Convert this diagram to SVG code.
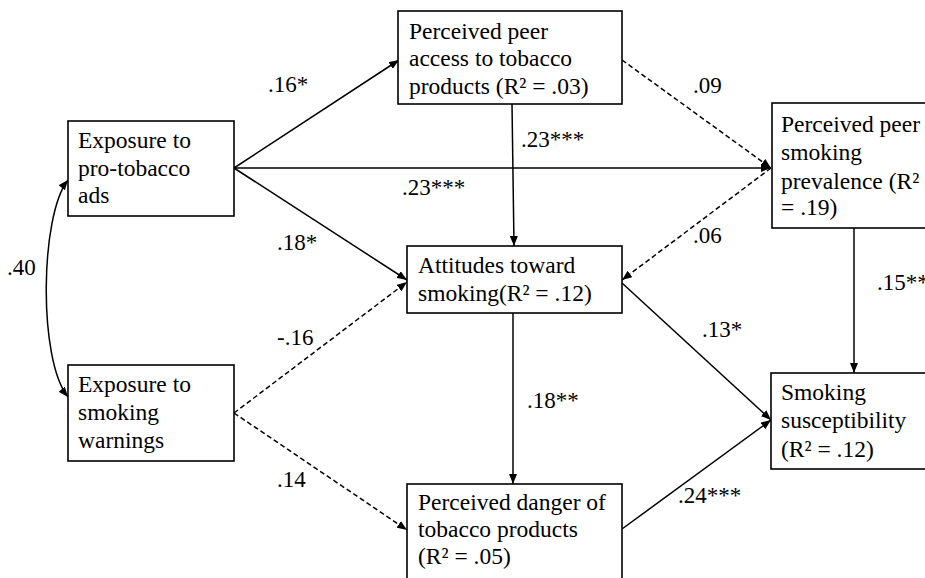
<svg xmlns="http://www.w3.org/2000/svg" width="925" height="578" viewBox="0 0 925 578" font-family="Liberation Serif, DejaVu Serif, serif">
<style>
  .box { fill: #ffffff; stroke: #000000; stroke-width: 1.6; }
  .t { font-size: 23.5px; fill: #000000; }
  .lbl { font-size: 23px; fill: #000000; }
  .edge { fill: none; stroke: #000000; stroke-width: 1.5; marker-end: url(#arr); }
  .dash { stroke-dasharray: 5 3; }
</style>
<defs>
  <marker id="arr" viewBox="0 0 10 8" refX="10" refY="4" markerWidth="10" markerHeight="8" markerUnits="userSpaceOnUse" orient="auto-start-reverse">
    <path d="M0,0 L10,4 L0,8 z" fill="#000000"/>
  </marker>
</defs>
<rect width="925" height="578" fill="#ffffff"/>

<g id="connectors">
  <path class="edge" d="M234,168 L399,60"/>
  <path class="edge" d="M234,168 L771,168"/>
  <path class="edge" d="M234,168 L407,280"/>
  <path class="edge" d="M512,104 L514,246"/>
  <path class="edge dash" d="M622,60 L771,168"/>
  <path class="edge dash" d="M771,168 L622,280"/>
  <path class="edge" d="M854,228 L854,373"/>
  <path class="edge" d="M622,283 L771,420"/>
  <path class="edge" d="M513,313 L513,484"/>
  <path class="edge dash" d="M234,413 L407,282"/>
  <path class="edge dash" d="M234,413 L407,530"/>
  <path class="edge" d="M622,529 L771,420"/>
  <path class="edge" style="marker-start: url(#arr);" d="M68,180 C40,215 38,360 68,397"/>
</g>

<g id="labels" font-family="Liberation Serif, serif">
  <text class="lbl" x="268" y="92">.16*</text>
  <text class="lbl" x="402" y="195">.23***</text>
  <text class="lbl" x="277" y="250">.18*</text>
  <text class="lbl" x="7" y="275">.40</text>
  <text class="lbl" x="521" y="147">.23***</text>
  <text class="lbl" x="693" y="93">.09</text>
  <text class="lbl" x="693" y="243">.06</text>
  <text class="lbl" x="877" y="290">.15**</text>
  <text class="lbl" x="277" y="345">-.16</text>
  <text class="lbl" x="277" y="487">.14</text>
  <text class="lbl" x="527" y="408">.18**</text>
  <text class="lbl" x="702" y="337">.13*</text>
  <text class="lbl" x="678" y="503">.24***</text>
</g>

<g id="node-ads" font-family="Liberation Serif, serif">
  <rect class="box" x="68" y="121" width="166" height="95"/>
  <text class="t" x="78" y="148">Exposure to</text>
  <text class="t" x="78" y="176">pro-tobacco</text>
  <text class="t" x="78" y="203">ads</text>
</g>

<g id="node-access" font-family="Liberation Serif, serif">
  <rect class="box" x="398" y="11" width="224" height="93"/>
  <text class="t" x="409" y="39">Perceived peer</text>
  <text class="t" x="409" y="66">access to tobacco</text>
  <text class="t" x="409" y="94">products (R² = .03)</text>
</g>

<g id="node-prevalence" font-family="Liberation Serif, serif">
  <rect class="box" x="772" y="103" width="160" height="125"/>
  <text class="t" x="781" y="132">Perceived peer</text>
  <text class="t" x="781" y="160">smoking</text>
  <text class="t" x="781" y="189">prevalence (R²</text>
  <text class="t" x="781" y="215">= .19)</text>
</g>

<g id="node-attitudes" font-family="Liberation Serif, serif">
  <rect class="box" x="407" y="246" width="215" height="67"/>
  <text class="t" x="418" y="273">Attitudes toward</text>
  <text class="t" x="418" y="301">smoking(R² = .12)</text>
</g>

<g id="node-warnings" font-family="Liberation Serif, serif">
  <rect class="box" x="68" y="365" width="166" height="96"/>
  <text class="t" x="78" y="392">Exposure to</text>
  <text class="t" x="78" y="420">smoking</text>
  <text class="t" x="78" y="448">warnings</text>
</g>

<g id="node-danger" font-family="Liberation Serif, serif">
  <rect class="box" x="407" y="484" width="215" height="110"/>
  <text class="t" x="418" y="510">Perceived danger of</text>
  <text class="t" x="418" y="537">tobacco products</text>
  <text class="t" x="418" y="564">(R² = .05)</text>
</g>

<g id="node-susceptibility" font-family="Liberation Serif, serif">
  <rect class="box" x="771" y="373" width="160" height="96"/>
  <text class="t" x="781" y="400">Smoking</text>
  <text class="t" x="781" y="428">susceptibility</text>
  <text class="t" x="781" y="457">(R² = .12)</text>
</g>
</svg>
